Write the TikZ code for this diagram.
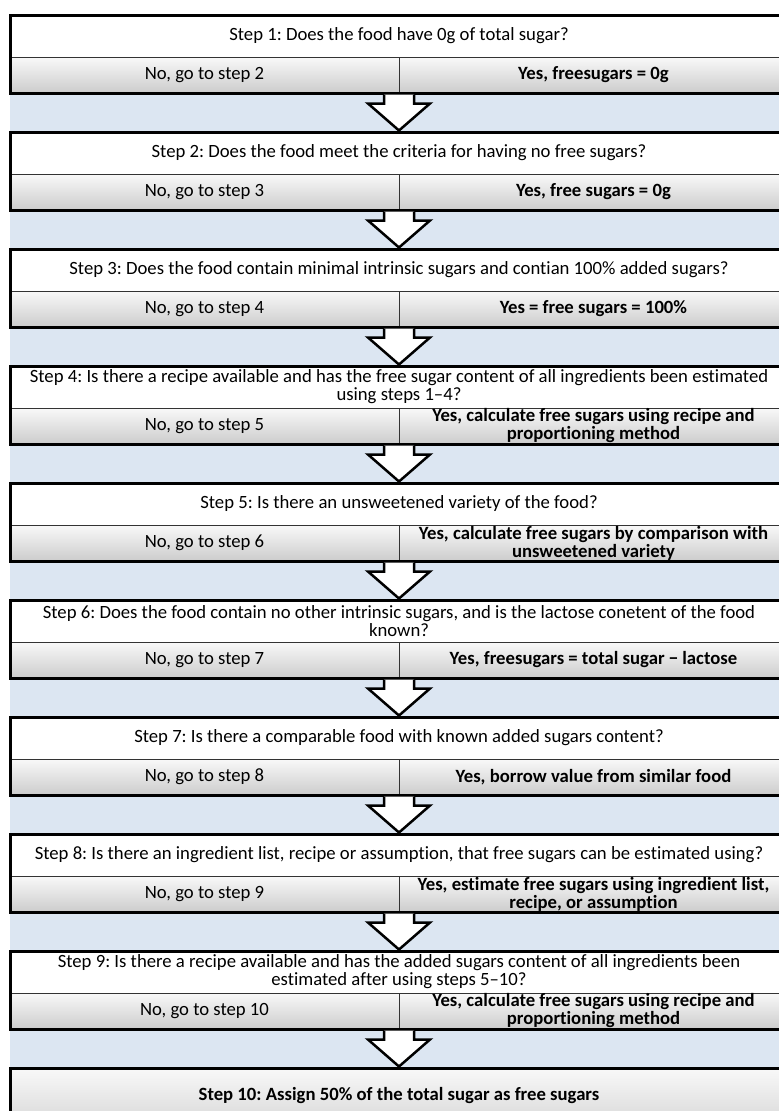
\documentclass[tikz,border=0pt]{standalone}
\usepackage{fontspec}
\setmainfont{Carlito}[Ligatures=NoCommon]
\usepackage{tikz}
\usetikzlibrary{positioning}

\definecolor{bandblue}{HTML}{DCE6F2}
\frenchspacing
\newcommand{\qfont}{\fontsize{18.7}{18}\selectfont}
\newcommand{\blockdown}[2]{%
  \draw[down] ([shift={(-15,1.5)}]#1.south east) -- ++(0,9) -- ++(-16,0)
    -- ([yshift=1.5pt]#2.north) -- ++(31,-27) -- ++(-16,0)
    -- ([shift={(15,1.5)}]#1.south east);}

\begin{document}
\begin{tikzpicture}[x=1pt,y=-1pt,
            question/.style={draw=black!80,line width=.8pt,fill=white,minimum width=778pt,minimum height=42pt,inner sep=0pt,outer sep=0pt,align=center,font=\qfont},
            answer/.style={draw=black!80,line width=.8pt,top color=gray!5,bottom color=gray!40,minimum width=389pt,minimum height=36pt,inner sep=0pt,outer sep=0pt,align=center},
            noans/.style={answer,font=\qfont},
            yesans/.style={answer,font=\qfont\bfseries},
            final/.style={draw,line width=3pt,top color=gray!5,bottom color=gray!30,minimum width=778pt,minimum height=56pt,inner sep=0pt,outer sep=0pt,font=\qfont\bfseries},
            frame/.style={draw,line width=3pt},
            down/.style={draw,line width=2.5pt,fill=white,line join=miter}
          ]
          \useasboundingbox (0,0) rectangle (779,1111);
          \clip (0,0) rectangle (779,1111);
          \fill[white] (0,0) rectangle (779,1111);
          \fill[bandblue] (10,60) rectangle (790,1111);

          %step 1
          \node[question] (q1) at (399,36) {Step 1: Does the food have 0g of total sugar?};
          \node[noans, below right=0pt and 0pt of q1.south west] (n1) {No, go to step 2};
          \node[yesans, right=0pt of n1] (y1) {Yes, freesugars = 0g};

          %step 2
          \node[question, below=39pt of n1.south east] (q2) {Step 2: Does the food meet the criteria for having no free sugars?};
          \node[noans, below right=0pt and 0pt of q2.south west] (n2) {No, go to step 3};
          \node[yesans, right=0pt of n2] (y2) {Yes, free sugars = 0g};

          %step 3
          \node[question, below=39pt of n2.south east] (q3) {Step 3: Does the food contain minimal intrinsic sugars and contian 100\% added sugars?};
          \node[noans, below right=0pt and 0pt of q3.south west] (n3) {No, go to step 4};
          \node[yesans, right=0pt of n3] (y3) {Yes = free sugars = 100\%};

          %step 4
          \node[question, below=39pt of n3.south east] (q4) {Step 4: Is there a recipe available and has the free sugar content of all ingredients been estimated\\using steps 1–4?};
          \node[noans, below right=0pt and 0pt of q4.south west] (n4) {No, go to step 5};
          \node[yesans, right=0pt of n4] (y4) {Yes, calculate free sugars using recipe and\\proportioning method};

          %step 5
          \node[question, below=39pt of n4.south east] (q5) {Step 5: Is there an unsweetened variety of the food?};
          \node[noans, below right=0pt and 0pt of q5.south west] (n5) {No, go to step 6};
          \node[yesans, right=0pt of n5] (y5) {Yes, calculate free sugars by comparison with\\unsweetened variety};

          %step 6
          \node[question, below=39pt of n5.south east] (q6) {Step 6: Does the food contain no other intrinsic sugars, and is the lactose conetent of the food\\known?};
          \node[noans, below right=0pt and 0pt of q6.south west] (n6) {No, go to step 7};
          \node[yesans, right=0pt of n6] (y6) {Yes, freesugars = total sugar − lactose};

          %step 7
          \node[question, below=39pt of n6.south east] (q7) {Step 7: Is there a comparable food with known added sugars content?};
          \node[noans, below right=0pt and 0pt of q7.south west] (n7) {No, go to step 8};
          \node[yesans, right=0pt of n7] (y7) {Yes, borrow value from similar food};

          %step 8
          \node[question, below=39pt of n7.south east] (q8) {Step 8: Is there an ingredient list, recipe or assumption, that free sugars can be estimated using?};
          \node[noans, below right=0pt and 0pt of q8.south west] (n8) {No, go to step 9};
          \node[yesans, right=0pt of n8] (y8) {Yes, estimate free sugars using ingredient list,\\recipe, or assumption};

          %step 9
          \node[question, below=39pt of n8.south east] (q9) {Step 9: Is there a recipe available and has the added sugars content of all ingredients been\\estimated after using steps 5–10?};
          \node[noans, below right=0pt and 0pt of q9.south west] (n9) {No, go to step 10};
          \node[yesans, right=0pt of n9] (y9) {Yes, calculate free sugars using recipe and\\proportioning method};

          %step 10
          \node[final, below=39pt of n9.south east] (s10) {Step 10: Assign 50\% of the total sugar as free sugars};

          %frames
          \draw[frame] (q1.north west) rectangle (y1.south east);
          \draw[frame] (q2.north west) rectangle (y2.south east);
          \draw[frame] (q3.north west) rectangle (y3.south east);
          \draw[frame] (q4.north west) rectangle (y4.south east);
          \draw[frame] (q5.north west) rectangle (y5.south east);
          \draw[frame] (q6.north west) rectangle (y6.south east);
          \draw[frame] (q7.north west) rectangle (y7.south east);
          \draw[frame] (q8.north west) rectangle (y8.south east);
          \draw[frame] (q9.north west) rectangle (y9.south east);

          %arrows
          \blockdown{n1}{q2}
          \blockdown{n2}{q3}
          \blockdown{n3}{q4}
          \blockdown{n4}{q5}
          \blockdown{n5}{q6}
          \blockdown{n6}{q7}
          \blockdown{n7}{q8}
          \blockdown{n8}{q9}
          \blockdown{n9}{s10}

      \end{tikzpicture}
\end{document}
